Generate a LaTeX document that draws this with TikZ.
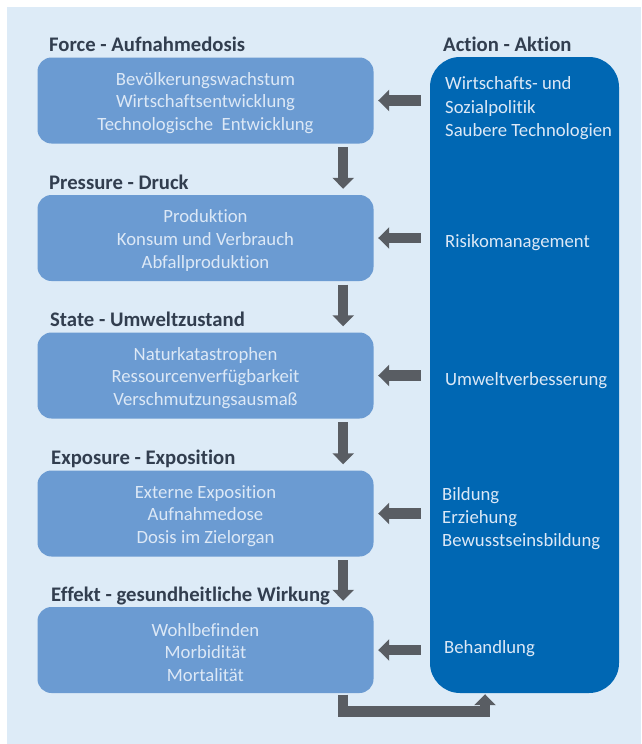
\documentclass[tikz,border=0pt]{standalone}
\usepackage{fontspec}
\setmainfont{Carlito}[Ligatures={NoCommon,NoContextual}]
\usetikzlibrary{arrows.meta,calc}
\definecolor{bgc}{HTML}{DDEBF7}
\definecolor{boxc}{HTML}{6B9BD2}
\definecolor{darkc}{HTML}{0067B3}
\definecolor{arrc}{HTML}{595D63}
\definecolor{titlec}{HTML}{323E4F}
\definecolor{lightc}{HTML}{DCE8F6}
\tikzset{
  stagebox/.style={fill=boxc, draw=none, rounded corners=14pt, minimum width=336pt, minimum height=86pt, inner sep=0pt},
  boxtext/.style={inner sep=0pt, text=lightc, align=center, font=\fontsize{18.7}{22.8}\selectfont},
  actbox/.style={fill=darkc, draw=none, rounded corners=30pt, minimum width=189pt, minimum height=636pt, inner sep=0pt},
  ttl/.style={anchor=base west, inner sep=0pt, text=titlec, font=\fontsize{20.7}{24}\selectfont\bfseries},
  acttext/.style={anchor=base west, inner sep=0pt, text=lightc, font=\fontsize{18.7}{22.7}\selectfont},
  fatarrow/.style={draw=arrc, line width=10.5pt, -{Triangle[width=21pt,length=11pt]}},
}
\begin{document}
\begin{tikzpicture}[x=1pt,y=-1pt]
\useasboundingbox (0,0) rectangle (641,744);
\fill[white] (0,0) rectangle (641,744);
\fill[bgc] (7,7) rectangle (641,744);

% stage boxes
\node[stagebox] (b1) at (205.5,100.5) {};
\node[stagebox] (b2) at (205.5,238) {};
\node[stagebox] (b3) at (205.5,375.5) {};
\node[stagebox] (b4) at (205.5,513.5) {};
\node[stagebox] (b5) at (205.5,650) {};
\node[boxtext] (b1t) at ([yshift=-2.5pt]b1.center) {Bevölkerungswachstum\\Wirtschaftsentwicklung\\Technologische\ \ Entwicklung};
\node[boxtext] (b2t) at ([yshift=-2.5pt]b2.center) {Produktion\\Konsum und Verbrauch\\Abfallproduktion};
\node[boxtext] (b3t) at ([yshift=-2.5pt]b3.center) {Naturkatastrophen\\Ressourcenverfügbarkeit\\Verschmutzungsausmaß};
\node[boxtext] (b4t) at ([yshift=-2.5pt]b4.center) {Externe Exposition\\Aufnahmedose\\Dosis im Zielorgan};
\node[boxtext] (b5t) at ([yshift=-2.5pt]b5.center) {Wohlbefinden\\Morbidität\\Mortalität};

% titles
\node[ttl] (t1) at (49,51.5) {Force - Aufnahmedosis};
\node[ttl] (t2) at (49,189) {Pressure - Druck};
\node[ttl] (t3) at (50,326.5) {State - Umweltzustand};
\node[ttl] (t4) at (51,464) {Exposure - Exposition};
\node[ttl] (t5) at (51,601) {Effekt - gesundheitliche Wirkung};
\node[ttl] (t6) at (443,51.5) {Action - Aktion};

% action box
\node[actbox] (act) at (524.5,375) {};
\node[acttext] (a1) at (445,89.5) {Wirtschafts- und};
\node[acttext] (a2) at (445,113) {Sozialpolitik};
\node[acttext] (a3) at (445,136.5) {Saubere Technologien};
\node[acttext] (a4) at (445,247) {Risikomanagement};
\node[acttext] (a5) at (445,385) {Umweltverbesserung};
\node[acttext] (a6) at (442,500) {Bildung};
\node[acttext] (a7) at (442,523) {Erziehung};
\node[acttext] (a8) at (442,546) {Bewusstseinsbildung};
\node[acttext] (a9) at (444,653) {Behandlung};

% left arrows from action box
\foreach \b in {b1,b2,b3,b4,b5}
  \draw[fatarrow, shorten <=9pt, shorten >=4.5pt] (act.west |- \b.east) -- (\b.east);

% down arrows
\foreach \u/\d in {b1/b2,b2/b3,b3/b4,b4/b5}
  \draw[fatarrow, shorten <=3.5pt, shorten >=6pt] ([xshift=-30.5pt]\u.south east) -- ([xshift=-30.5pt]\d.north east);

% bottom feedback connector
\coordinate (fb) at ([xshift=-30.5pt,yshift=-18.5pt]b5.south east);
\draw[fatarrow, shorten <=1.5pt, shorten >=1pt] ([xshift=-30.5pt]b5.south east) -- (fb) -| ([xshift=-39.5pt]act.south);
\end{tikzpicture}
\end{document}
